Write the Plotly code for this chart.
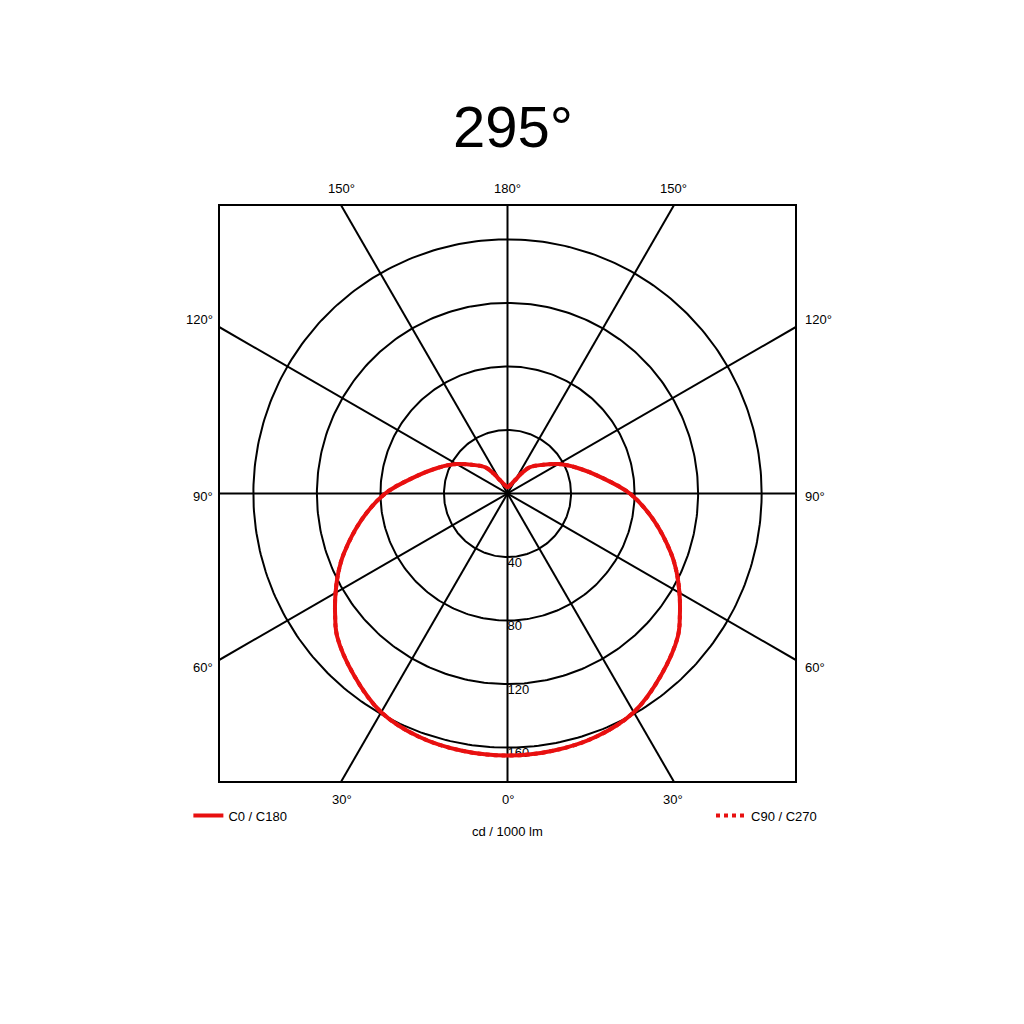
import numpy as np
import plotly.graph_objects as go

# luminous intensity distribution, cd / 1000 lm, by gamma angle (0 = straight down)
gamma = [0, 10, 20, 30, 40, 50, 55, 60, 65, 70, 80, 90, 100, 110, 120, 130, 140, 145, 150, 155, 160, 170, 180]
c0_c180 = [165, 164.5, 163, 159, 150, 140, 132.5, 125, 117.5, 109.5, 93, 77, 59.5, 47, 37, 28, 21.5, 15.5, 10, 7.5, 6, 4.5, 4]
c90_c270 = [165, 164.5, 163, 159, 150, 140, 132.5, 125, 117.5, 109.5, 93, 77, 59.5, 47, 37, 28, 21.5, 15.5, 10, 7.5, 6, 4.5, 4]

ring_values = [40, 80, 120, 160]
spoke_angles = [0, 30, 60, 90, 120, 150]
angle_labels = [0, 30, 60, 90, 120, 150, 180]

title_text = "295°"
unit_text = "cd / 1000 lm"

EDGE = 181
RED = "rgb(232,16,16)"
FONT = "Liberation Sans, Arial, sans-serif"


def to_xy(g, val):
    # full curve: left half (C180) from 180 down to 0, right half (C0) from 0 up to 180
    g = np.asarray(g, dtype=float)
    v = np.asarray(val, dtype=float)
    th = np.radians(np.concatenate([-g[::-1], g[1:]]))
    r = np.concatenate([v[::-1], v[1:]])
    return r * np.sin(th), -r * np.cos(th)


fig = go.Figure()

# concentric rings
t = np.linspace(0, 2 * np.pi, 361)
for rv in ring_values:
    fig.add_trace(go.Scatter(x=rv * np.cos(t), y=rv * np.sin(t), mode="lines",
                             line=dict(color="black", width=2),
                             hoverinfo="skip", showlegend=False))

# spokes through the centre, clipped by the axes
sx, sy = [], []
for a in spoke_angles:
    ar = np.radians(a)
    sx += [-400 * np.sin(ar), 400 * np.sin(ar), None]
    sy += [400 * np.cos(ar), -400 * np.cos(ar), None]
fig.add_trace(go.Scatter(x=sx, y=sy, mode="lines", line=dict(color="black", width=2),
                         hoverinfo="skip", showlegend=False))

# ring values, drawn before the curve so the curve sits on top
fig.add_trace(go.Scatter(x=[0] * len(ring_values), y=[-v for v in ring_values],
                         mode="text", text=[str(v) for v in ring_values],
                         textposition="bottom right",
                         textfont=dict(family=FONT, size=13, color="black"),
                         hoverinfo="skip", showlegend=False))

x90, y90 = to_xy(gamma, c90_c270)
fig.add_trace(go.Scatter(x=x90, y=y90, mode="lines", name="C90 / C270",
                         line=dict(color=RED, width=4, dash="dot", shape="spline", smoothing=1.0),
                         legend="legend2"))

x0, y0 = to_xy(gamma, c0_c180)
fig.add_trace(go.Scatter(x=x0, y=y0, mode="lines", name="C0 / C180",
                         line=dict(color=RED, width=4, shape="spline", smoothing=1.0),
                         legend="legend"))

# angle labels where the spokes meet the frame
annotations = []
for g in angle_labels:
    sides = [1] if g in (0, 180) else [-1, 1]
    for s in sides:
        gr = np.radians(g)
        dx, dy = s * np.sin(gr), -np.cos(gr)
        k = EDGE / max(abs(dx), abs(dy))
        px, py = k * dx, k * dy
        a = dict(x=px, y=py, xref="x", yref="y", text=f"{g}°", showarrow=False,
                 font=dict(family=FONT, size=13, color="black"))
        if abs(dy) >= abs(dx) - 1e-9 and g != 90:
            if dy > 0:
                a.update(yanchor="bottom", xanchor="center", yshift=8)
            else:
                a.update(yanchor="top", xanchor="center", yshift=-9)
        else:
            a.update(xanchor="right" if s < 0 else "left", xshift=-5 if s < 0 else 8,
                     yanchor="middle", yshift=(8 if dy > 0.1 else (-8 if dy < -0.1 else -3)))
        annotations.append(a)

annotations.append(dict(x=0, y=-EDGE, xref="x", yref="y", text=unit_text, showarrow=False,
                        yanchor="top", yshift=-41,
                        font=dict(family=FONT, size=13, color="black")))

fig.update_layout(
    width=1024, height=1024, autosize=False,
    margin=dict(l=212, r=237, t=198, b=251),
    paper_bgcolor="white", plot_bgcolor="white",
    title=dict(text=title_text, x=505 / 1024, xanchor="center",
               y=1 - 119 / 1024, yanchor="middle",
               font=dict(family=FONT, size=58, color="black")),
    annotations=annotations,
    legend=dict(x=-0.055, xanchor="left", y=-0.06, yanchor="middle",
                font=dict(family=FONT, size=13, color="black"), bgcolor="rgba(0,0,0,0)"),
    legend2=dict(x=1.047, xanchor="right", y=-0.06, yanchor="middle",
                 font=dict(family=FONT, size=13, color="black"), bgcolor="rgba(0,0,0,0)"),
)
fig.update_xaxes(range=[-EDGE, EDGE], showgrid=False, zeroline=False, showticklabels=False,
                 ticks="", showline=True, mirror=True, linecolor="black", linewidth=2)
fig.update_yaxes(range=[-EDGE, EDGE], showgrid=False, zeroline=False, showticklabels=False,
                 ticks="", showline=True, mirror=True, linecolor="black", linewidth=2)

fig.write_html("out.html")
